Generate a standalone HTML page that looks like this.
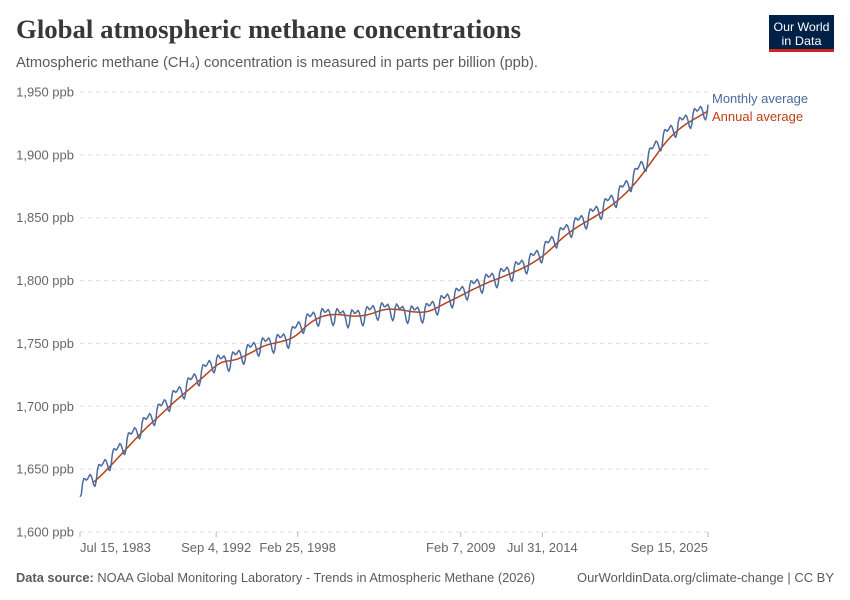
<!DOCTYPE html>
<html>
<head>
<meta charset="utf-8">
<style>
html,body{margin:0;padding:0;background:#fff;}
svg{display:block;}
text{font-family:"Liberation Sans",sans-serif;}
</style>
</head>
<body>
<svg id="c" width="850" height="600" viewBox="0 0 850 600" xmlns="http://www.w3.org/2000/svg">
<rect x="0" y="0" width="850" height="600" fill="#fff"/>
<text x="16" y="38" font-family="Liberation Serif, serif" font-weight="bold" font-size="26" fill="#383838" textLength="505" lengthAdjust="spacingAndGlyphs" style="font-family:'Liberation Serif',serif">Global atmospheric methane concentrations</text>
<text x="16" y="67" font-size="14.5" fill="#5b5b5b" textLength="522" lengthAdjust="spacingAndGlyphs">Atmospheric methane (CH₄) concentration is measured in parts per billion (ppb).</text>
<rect x="769" y="15" width="65" height="37" fill="#002147"/>
<rect x="769" y="49" width="65" height="3" fill="#ce261e"/>
<text x="801.5" y="31" font-size="12" fill="#fff" text-anchor="middle" textLength="56" lengthAdjust="spacingAndGlyphs">Our World</text>
<text x="801.5" y="45" font-size="12" fill="#fff" text-anchor="middle" textLength="40" lengthAdjust="spacingAndGlyphs">in Data</text>
<g id="grid"></g>
<g id="ylab" font-size="13" fill="#666" text-anchor="end"></g>
<g id="xax"></g>
<path id="ann" fill="none" stroke="#be3f13" stroke-width="1.5" stroke-linejoin="round"/>
<path id="mon" fill="none" stroke="#4c6a9c" stroke-width="1.5" stroke-linejoin="round"/>
<text x="712" y="103" font-size="13" fill="#4c6a9c">Monthly average</text>
<text x="712" y="121" font-size="13" fill="#be3f13">Annual average</text>
<text x="16" y="582" font-size="12.5" fill="#5b5b5b" textLength="519" lengthAdjust="spacingAndGlyphs"><tspan font-weight="bold">Data source:</tspan> NOAA Global Monitoring Laboratory - Trends in Atmospheric Methane (2026)</text>
<text x="834" y="582" font-size="12.5" fill="#5b5b5b" text-anchor="end" textLength="257" lengthAdjust="spacingAndGlyphs">OurWorldinData.org/climate-change | CC BY</text>
</svg>
<script>
(function(){
var NS="http://www.w3.org/2000/svg";
function el(tag,attrs,parent,txt){var e=document.createElementNS(NS,tag);for(var k in attrs)e.setAttribute(k,attrs[k]);if(txt!==undefined)e.textContent=txt;parent.appendChild(e);return e;}
var X0=80,X1=708,T0=1983+195/365,T1=2025+257/365;
var Y0=532,Y1=92,V0=1600,V1=1950;
function xs(t){return X0+(t-T0)*(X1-X0)/(T1-T0);}
function ys(v){return Y0-(v-V0)*(Y0-Y1)/(V1-V0);}
var grid=document.getElementById('grid'),ylab=document.getElementById('ylab'),xax=document.getElementById('xax');
for(var v=1600;v<=1950;v+=50){
  var y=ys(v);
  el('line',{x1:X0,x2:X1,y1:y,y2:y,stroke:'#dddddd','stroke-width':1,'stroke-dasharray':'4,4'},grid);
  el('text',{x:74,y:y+4.5},ylab,(v+'').replace(/(\d)(\d{3})$/,'$1,$2')+' ppb');
}
var ticks=[[1983+195/365,'Jul 15, 1983','start'],[1992+247/365,'Sep 4, 1992','middle'],[1998+55/365,'Feb 25, 1998','middle'],[2009+37/365,'Feb 7, 2009','middle'],[2014+211/365,'Jul 31, 2014','middle'],[2025+257/365,'Sep 15, 2025','end']];
ticks.forEach(function(tk){
  var x=xs(tk[0]);
  el('line',{x1:x,x2:x,y1:Y0,y2:Y0+5,stroke:'#bbbbbb','stroke-width':1},xax);
  el('text',{x:x,y:552,'font-size':13,fill:'#666','text-anchor':tk[2]},xax,tk[1]);
});
var ann={1983:1634.5,1984:1644.8,1985:1657.3,1986:1670.1,1987:1682.7,1988:1693.3,1989:1704.5,1990:1714.4,1991:1724.8,1992:1735.5,1993:1736.5,1994:1742.1,1995:1748.7,1996:1751.1,1997:1754.6,1998:1766.7,1999:1772.6,2000:1773.2,2001:1771.3,2002:1772.8,2003:1777.4,2004:1777.1,2005:1774.8,2006:1774.9,2007:1781.3,2008:1787.0,2009:1793.2,2010:1798.7,2011:1803.1,2012:1808.1,2013:1814.0,2014:1822.5,2015:1834.5,2016:1843.0,2017:1849.7,2018:1857.3,2019:1866.6,2020:1879.1,2021:1895.3,2022:1911.8,2023:1922.6,2024:1929.7,2025:1936.5};
function trend(t){
  var y0=Math.floor(t-0.5);
  if(y0<1983)y0=1983; if(y0>2024)y0=2024;
  var f=t-0.5-y0;
  return ann[y0]+(ann[y0+1]-ann[y0])*f;
}
var seas=[2,3,4,2,-2,-7,-9,-6,2,5,4,2];
var pts=[],vals=[];
for(var yr=1983;yr<=2025;yr++){
  for(var m=1;m<=12;m++){
    if(yr===1983&&m<7)continue;
    if(yr===2025&&m>9)break;
    var tm=yr+(m-0.5)/12;
    var v=trend(tm)+seas[m-1];
    var tx=yr+(m-1)/12+14/365;
    if(yr===1983&&m===7)v=1628;
    vals.push(v);pts.push([xs(tx),ys(v)]);
  }
}
var d='';
pts.forEach(function(p,i){d+=(i?'L':'M')+p[0].toFixed(2)+' '+p[1].toFixed(2);});
document.getElementById('mon').setAttribute('d',d);
var d2='';
for(var i=11;i<vals.length;i++){
  var s=0;for(var j=i-11;j<=i;j++)s+=vals[j];
  s/=12;
  d2+=(i>11?'L':'M')+pts[i][0].toFixed(2)+' '+ys(s).toFixed(2);
}
document.getElementById('ann').setAttribute('d',d2);
})();
</script>
</body>
</html>
